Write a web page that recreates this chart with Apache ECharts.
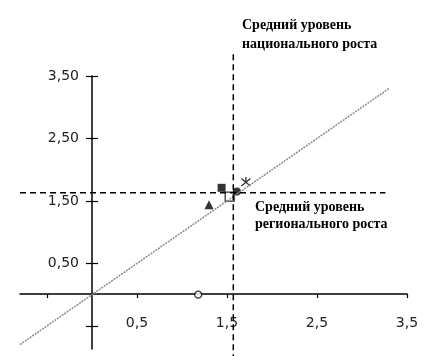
<!DOCTYPE html>
<html><head><meta charset="utf-8">
<script src="https://cdn.jsdelivr.net/npm/echarts@6/dist/echarts.min.js"></script>
<style>html,body{margin:0;padding:0;background:#fff}#c{width:439px;height:356px}</style>
</head><body><div id="c"></div>
<script>
// data
const xTicks = [-0.5, 0.5, 1.5, 2.5, 3.5];
const xLabels = [0.5, 1.5, 2.5, 3.5];
const yTicks = [-0.5, 0.5, 1.5, 2.5, 3.5];
const yLabels = [0.5, 1.5, 2.5, 3.5];
const diagonal = [[-0.8, -0.8], [3.3, 3.3]];
const nationalAvg = 1.57;
const regionalAvg = 1.63;
const vLineRange = [-1.05, 3.87];
const hLineRange = [-0.8, 3.26];
const filledSquare = [[1.44, 1.71]];
const hollowSquare = [[1.53, 1.57]];
const filledCircle = [[1.61, 1.65]];
const crossMark = [[1.71, 1.81]];
const triangle = [[1.30, 1.44]];
const hollowCircle = [[1.18, 0]];
const nationalText = ['Средний уровень', 'национального роста'];
const regionalText = ['Средний уровень', 'регионального роста'];

const X_MIN = -0.8, X_MAX = 3.5, Y_MIN = -0.87, Y_MAX = 3.5;
const chart = echarts.init(document.getElementById('c'), null, {renderer: 'canvas'});
const labFont = {fontFamily: 'DejaVu Sans', fontSize: 14, color: '#222'};
const crossPath = 'path://M0,0L10,10M10,0L0,10M5,-2L5,4';
const hiddenX = (gi) => ({type: 'value', gridIndex: gi, min: X_MIN, max: X_MAX, show: false});
const hiddenY = (gi) => ({type: 'value', gridIndex: gi, min: Y_MIN, max: Y_MAX, show: false});
const option = {
  animation: false,
  backgroundColor: '#fff',
  grid: [
    {left: 20, right: 32, top: 76, bottom: 7, containLabel: false, outerBoundsMode: 'none'},
    {left: 20, right: 32, top: 76, bottom: 62, containLabel: false, outerBoundsMode: 'none'},
    {left: 92, right: 32, top: 76, bottom: 7, containLabel: false, outerBoundsMode: 'none'}
  ],
  xAxis: [
    hiddenX(0),
    {
      type: 'value', gridIndex: 1, min: X_MIN, max: X_MAX, position: 'bottom',
      splitLine: {show: false},
      axisLine: {show: true, onZero: false, lineStyle: {color: '#000', width: 1.5}},
      axisTick: {show: true, customValues: xTicks, length: 4, lineStyle: {color: '#000', width: 1.2}},
      axisLabel: Object.assign({show: true, customValues: xLabels, margin: 22,
        formatter: v => String(v).replace('.', ',')}, labFont)
    },
    {type: 'value', gridIndex: 2, min: 0, max: 1, show: false}
  ],
  yAxis: [
    hiddenY(0),
    hiddenY(1),
    {
      type: 'value', gridIndex: 2, min: Y_MIN, max: Y_MAX, position: 'left',
      splitLine: {show: false},
      axisLine: {show: true, onZero: false, lineStyle: {color: '#000', width: 1.5}},
      axisTick: {show: true, customValues: yTicks, length: 6, lineStyle: {color: '#000', width: 1.2}},
      axisLabel: Object.assign({show: true, customValues: yLabels, margin: 13,
        formatter: v => v.toFixed(2).replace('.', ',')}, labFont)
    },
    {
      type: 'value', gridIndex: 2, min: Y_MIN, max: Y_MAX, position: 'left',
      splitLine: {show: false},
      axisLine: {show: false, onZero: false},
      axisTick: {show: true, inside: true, customValues: yTicks, length: 6, lineStyle: {color: '#000', width: 1.2}},
      axisLabel: {show: false}
    }
  ],
  series: [
    {type: 'line', data: diagonal, symbol: 'none', clip: false,
      lineStyle: {color: '#8a8a8a', width: 1.5, type: [2, 1]}},
    {type: 'line', data: [[nationalAvg, vLineRange[0]], [nationalAvg, vLineRange[1]]], symbol: 'none', clip: false,
      lineStyle: {color: '#000', width: 1.5, type: [6, 4]}},
    {type: 'line', data: [[hLineRange[0], regionalAvg], [hLineRange[1], regionalAvg]], symbol: 'none', clip: false,
      lineStyle: {color: '#000', width: 1.5, type: [6, 4]}},
    {type: 'scatter', data: filledSquare, symbol: 'rect', symbolSize: 8, itemStyle: {color: '#000'}},
    {type: 'scatter', data: hollowSquare, symbol: 'rect', symbolSize: 9, itemStyle: {color: '#fff', borderColor: '#000', borderWidth: 1.3}},
    {type: 'scatter', data: filledCircle, symbol: 'circle', symbolSize: 8, itemStyle: {color: '#000'}},
    {type: 'scatter', data: crossMark, symbol: crossPath, symbolSize: 9, itemStyle: {color: 'none', borderColor: '#000', borderWidth: 1.3}},
    {type: 'scatter', data: triangle, symbol: 'triangle', symbolSize: 9, itemStyle: {color: '#000'}},
    {type: 'scatter', data: hollowCircle, symbol: 'circle', symbolSize: 7, z: 5, itemStyle: {color: '#fff', borderColor: '#000', borderWidth: 1.3}}
  ],
  graphic: [
    {type: 'text', left: 242, top: 16, style: {text: nationalText.join('\n'), font: 'bold 14px "Liberation Serif"', fill: '#000', lineHeight: 19}},
    {type: 'text', left: 255, top: 199, style: {text: regionalText.join('\n'), font: 'bold 14px "Liberation Serif"', fill: '#000', lineHeight: 17}}
  ]
};
chart.setOption(option);
</script></body></html>
